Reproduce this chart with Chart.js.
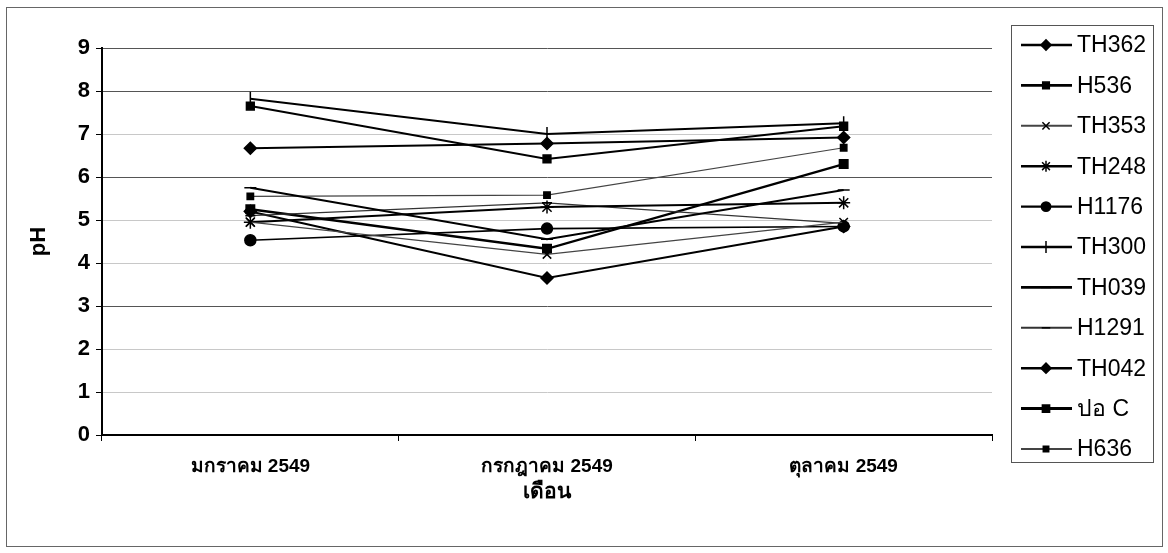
<!DOCTYPE html>
<html>
<head>
<meta charset="utf-8">
<script src="https://cdn.jsdelivr.net/npm/chart.js@4.4.1/dist/chart.umd.min.js"></script>
<style>
  html, body { margin: 0; padding: 0; background: #fff; }
  #wrap { width: 1168px; height: 553px; position: relative; }
</style>
</head>
<body>
<div id="wrap"><canvas id="c" width="1168" height="553"></canvas></div>
<script>
// Sampling months
const months = ['มกราคม 2549', 'กรกฎาคม 2549', 'ตุลาคม 2549'];

// pH readings per well
const TH362 = [6.67, 6.78, 6.92];
const H536  = [7.65, 6.42, 7.18];
const TH353 = [4.95, 4.20, 4.95];
const TH248 = [4.95, 5.30, 5.40];
const H1176 = [4.53, 4.80, 4.85];
const TH300 = [7.82, 7.00, 7.25];
const TH039 = [5.75, 4.55, 5.70];
const H1291 = [5.10, 5.40, 4.92];
const TH042 = [5.20, 3.65, 4.85];
const poC   = [5.25, 4.33, 6.30];
const H636  = [5.55, 5.58, 6.68];

const yTicks = [0, 1, 2, 3, 4, 5, 6, 7, 8, 9];

const FONT = '"Liberation Sans", Arial, sans-serif';

function series(label, data, pointStyle, radius, color, width) {
  return {
    label, data, pointStyle,
    pointRadius: radius, pointHoverRadius: radius,
    borderColor: color, backgroundColor: color,
    pointBorderColor: '#000', pointBackgroundColor: '#000',
    pointBorderWidth: 1.5,
    borderWidth: width,
    tension: 0, fill: false
  };
}

const datasets = [
  series('TH362', TH362, 'rectRot', 6, '#000', 2),
  series('H536',  H536,  'rect',    5.5, '#000', 2),
  series('TH353', TH353, 'crossRot', 6, '#444', 1.2),
  series('TH248', TH248, 'star',    6.5, '#000', 2),
  series('H1176', H1176, 'circle',  5.5, '#000', 1.6),
  series('TH300', TH300, 'line',    7, '#000', 2),
  series('TH039', TH039, 'line',    6, '#000', 2),
  series('H1291', H1291, 'line',    5, '#333', 1.2),
  series('TH042', TH042, 'rectRot', 6, '#000', 2),
  series('ปอ C',  poC,   'rect',    6, '#000', 2.4),
  series('H636',  H636,  'rect',    4.5, '#444', 1.2)
];
// TH300 uses a vertical tick mark
datasets[5].pointRotation = 90;

// Frame around the whole figure
const framePlugin = {
  id: 'frame',
  beforeDraw(chart) {
    const ctx = chart.ctx;
    ctx.save();
    ctx.fillStyle = '#fff';
    ctx.fillRect(0, 0, chart.width, chart.height);
    ctx.strokeStyle = '#666';
    ctx.lineWidth = 1;
    ctx.strokeRect(6.5, 7.5, 1156, 539);
    ctx.restore();
  }
};

// Boxed legend on the right: line sample, marker, label
const legendPlugin = {
  id: 'boxLegend',
  afterDraw(chart) {
    const ctx = chart.ctx;
    const x0 = 1011, y0 = 25, w = 142, h = 437;
    ctx.save();
    ctx.strokeStyle = '#555';
    ctx.lineWidth = 1;
    ctx.strokeRect(x0 + 0.5, y0 + 0.5, w, h);
    ctx.font = '23px ' + FONT;
    ctx.textBaseline = 'middle';
    chart.data.datasets.forEach((ds, i) => {
      const y = 45 + i * 40.4;
      ctx.strokeStyle = ds.borderColor;
      ctx.lineWidth = Math.max(ds.borderWidth, 1.4) + 0.6;
      ctx.beginPath();
      ctx.moveTo(1021, y);
      ctx.lineTo(1072, y);
      ctx.stroke();
      ctx.fillStyle = '#000';
      ctx.strokeStyle = '#000';
      ctx.lineWidth = 1.5;
      Chart.helpers.drawPoint(ctx, {
        pointStyle: ds.pointStyle,
        radius: ds.pointRadius * 0.85,
        rotation: ds.pointRotation || 0,
        borderWidth: 1.5
      }, 1046, y);
      ctx.fillStyle = '#000';
      ctx.fillText(ds.label, 1077, y + 1);
    });
    ctx.restore();
  }
};

new Chart(document.getElementById('c'), {
  type: 'line',
  data: { labels: months, datasets },
  options: {
    responsive: false,
    animation: false,
    devicePixelRatio: 1,
    layout: { padding: { left: 22, top: 48, right: 176, bottom: 44 } },
    plugins: { legend: { display: false }, tooltip: { enabled: false } },
    scales: {
      x: {
        offset: true,
        grid: { display: true, drawOnChartArea: false, color: '#000', tickLength: 6, offset: true },
        border: { color: '#000', width: 2 },
        ticks: { color: '#000', font: { family: FONT, size: 19, weight: 'bold' }, padding: 14, maxRotation: 0 },
        title: { display: true, text: 'เดือน', color: '#000', font: { family: FONT, size: 21, weight: 'bold' }, padding: { top: 4 } },
        afterFit(scale) { scale.height = 74; }
      },
      y: {
        min: 0, max: 9,
        afterBuildTicks(scale) { scale.ticks = yTicks.map(v => ({ value: v })); },
        grid: {
          color: ctx => ([9, 8, 6, 3].includes(ctx.tick && ctx.tick.value) ? '#555' : '#c8c8c8'),
          lineWidth: 1, tickLength: 6, tickColor: '#000'
        },
        border: { color: '#000', width: 2 },
        ticks: { color: '#000', font: { family: FONT, size: 22, weight: 'bold' }, padding: 6 },
        title: { display: true, text: 'pH', color: '#000', font: { family: FONT, size: 22, weight: 'bold' }, padding: { bottom: 12 } },
        afterFit(scale) { scale.width = 80; }
      }
    }
  },
  plugins: [framePlugin, legendPlugin]
});
</script>
</body>
</html>
